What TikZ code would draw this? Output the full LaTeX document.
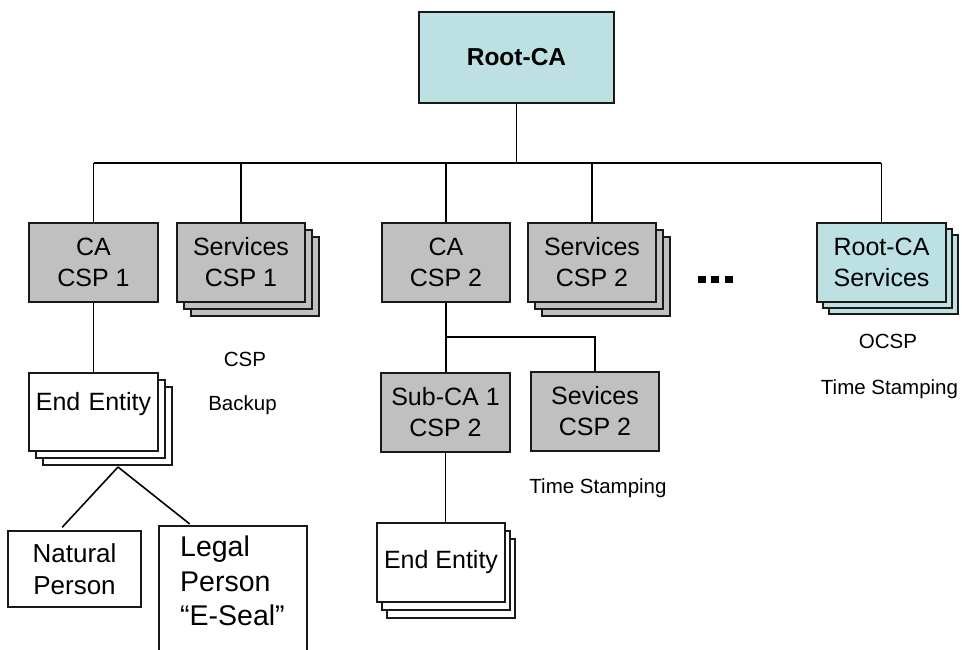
\documentclass[tikz,border=0pt]{standalone}
\usepackage{fontspec}
\setmainfont{Liberation Sans}
\usetikzlibrary{shadows}
\definecolor{boxgrey}{RGB}{192,192,192}
\definecolor{boxcyan}{RGB}{189,224,227}
\tikzset{
  box/.style={draw=black!90, line width=1.6pt, inner sep=0pt, align=center,
    font=\fontsize{25}{31}\selectfont, minimum width=129pt, minimum height=79pt},
  greybox/.style={box, fill=boxgrey},
  cyanbox/.style={box, fill=boxcyan},
  whitebox/.style={box, fill=white},
  stack/.style={double copy shadow={shadow xshift=#1pt, shadow yshift=-7pt}},
  conn/.style={line width=1.6pt, black},
  note/.style={font=\fontsize{20.5}{24}\selectfont, anchor=base, inner sep=0pt},
  dotbox/.style={fill=black, inner sep=0pt, minimum size=7.5pt}
}
\begin{document}
\begin{tikzpicture}[x=1pt,y=-1pt]
\useasboundingbox (0,0) rectangle (962,649);
% nodes
\node[cyanbox, minimum width=195pt, minimum height=91pt, font=\fontsize{24.5}{31}\selectfont\bfseries] (root) at (516.5,57.5) {Root-CA};
\node[greybox] (ca1) at (93.5,262.5) {CA\\CSP 1};
\node[greybox, stack=7, minimum width=128pt] (srv1) at (241,262.5) {Services\\CSP 1};
\node[greybox, minimum width=128pt] (ca2) at (446,262.5) {CA\\CSP 2};
\node[greybox, stack=7, minimum width=128pt] (srv2) at (592,262.5) {Services\\CSP 2};
\node[cyanbox, double copy shadow={shadow xshift=6pt, shadow yshift=-6pt}] (rsrv) at (881.5,262.5) {Root-CA\\Services};
\node[dotbox] (dot1) at (702,279.5) {};
\node[dotbox] (dot2) at (715,279.5) {};
\node[dotbox] (dot3) at (729,279.5) {};
\node[whitebox, stack=7, minimum height=0pt, text width=129pt, text height=37pt, text depth=41pt] (ee1) at (93.5,412) {End Entity};
\node[whitebox, minimum width=133pt, minimum height=76pt, font=\fontsize{26}{32}\selectfont] (nat) at (74.5,569) {Natural\\Person};
\node[inner sep=0pt, minimum width=148pt, minimum height=124pt] (legal) at (233,588) {};
\node[anchor=north west, inner sep=0pt, align=left, font=\fontsize{28.5}{34.5}\selectfont] (legaltxt) at (180,536) {Legal\\Person\\“E-Seal”};
\node[greybox] (sub) at (445.5,412.5) {Sub-CA 1\\CSP 2};
\node[greybox, minimum width=128pt] (sev) at (595,411.5) {Sevices\\CSP 2};
\node[whitebox, double copy shadow={shadow xshift=5pt, shadow yshift=-8pt}, minimum width=128pt] (ee2) at (441,562.5) {End Entity};
% labels
\node[note] (csp) at (245,366) {CSP};
\node[note] (backup) at (242.5,410) {Backup};
\node[note] (ts1) at (598,493) {Time Stamping};
\node[note] (ocsp) at (888,348) {OCSP};
\node[note] (ts2) at (889.5,394) {Time Stamping};
% legal person box (open at the bottom edge)
\draw[line width=1.6pt, black!90] (legal.south west) -- (legal.north west) -- (legal.north east) -- (legal.south east);
% connectors
\coordinate (busL) at (94,163);
\coordinate (busR) at (881,163);
\draw[conn] (root.south) -- (root.south |- busL);
\draw[conn] (busL) -- (busR);
\draw[conn] (ca1.north) -- (ca1.north |- busL);
\draw[conn] (srv1.north) -- (srv1.north |- busL);
\draw[conn] (ca2.north) -- (ca2.north |- busL);
\draw[conn] (srv2.north) -- (srv2.north |- busL);
\draw[conn] (rsrv.north) -- (rsrv.north |- busL);
\draw[conn] (ca1.south) -- (ee1.north);
\coordinate (eeb) at (118,467);
\draw[conn, shorten >=4pt] (eeb) -- ([xshift=-15pt]nat.north);
\draw[conn, shorten >=3pt] (eeb) -- ([xshift=-41pt]legal.north);
\coordinate (b2) at (446,337);
\draw[conn] (ca2.south) -- (ca2.south |- sub.north);
\draw[conn] (b2) -| (sev.north);
\draw[conn] (sub.south) -- (sub.south |- ee2.north);
\end{tikzpicture}
\end{document}
